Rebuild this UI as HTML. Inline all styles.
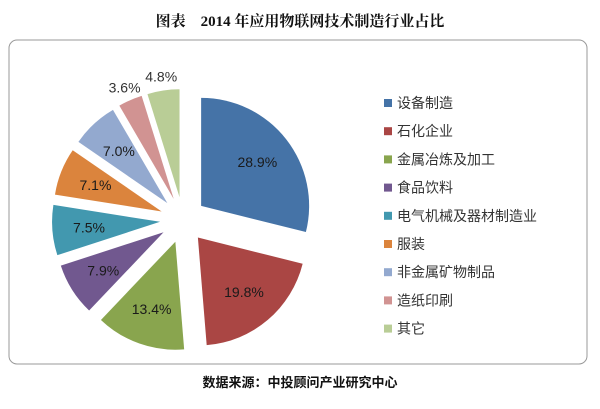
<!DOCTYPE html>
<html><head><meta charset="utf-8"><style>
body{margin:0;width:600px;height:404px;background:#fff;overflow:hidden;font-family:"Liberation Sans","Noto Sans CJK SC",sans-serif}
</style></head><body>
<svg width="600" height="404">
<text x="300" y="26" text-anchor="middle" font-family="'Liberation Serif','Noto Serif CJK SC',serif" font-weight="bold" font-size="15" fill="#111">图表　2014 年应用物联网技术制造行业占比</text>
<rect x="9" y="40" width="578" height="324" rx="8" fill="#fff" stroke="#999" stroke-width="1"/>
<g id="pie"></g>
<g id="legend"></g>
<text x="300" y="387" text-anchor="middle" font-size="13" fill="#111" font-weight="bold">数据来源：中投顾问产业研究中心</text>
</svg>
<script>
const categories=["设备制造","石化企业","金属冶炼及加工","食品饮料","电气机械及器材制造业","服装","非金属矿物制品","造纸印刷","其它"];
const values=[28.9,19.8,13.4,7.9,7.5,7.1,7.0,3.6,4.8];
const labels=["28.9%","19.8%","13.4%","7.9%","7.5%","7.1%","7.0%","3.6%","4.8%"];
const colors=["#4573a7","#aa4644","#89a54e","#71588f","#4298af","#db843d","#93a9cf","#d19392","#b9cd96"];
const NS="http://www.w3.org/2000/svg";
const cx=183,cy=220,r=108,ex=23;
const pie=document.getElementById('pie');
const total=values.reduce((a,b)=>a+b,0);
let acc=0;
values.forEach((v,i)=>{
  const a0=acc/total*2*Math.PI-Math.PI/2;
  acc+=v;
  const a1=acc/total*2*Math.PI-Math.PI/2;
  const am=(a0+a1)/2;
  const ox=cx+ex*Math.cos(am),oy=cy+ex*Math.sin(am);
  const x0=ox+r*Math.cos(a0),y0=oy+r*Math.sin(a0),x1=ox+r*Math.cos(a1),y1=oy+r*Math.sin(a1);
  const p=document.createElementNS(NS,'path');
  p.setAttribute('d',`M${ox},${oy}L${x0},${y0}A${r},${r} 0 ${a1-a0>Math.PI?1:0} 1 ${x1},${y1}Z`);
  p.setAttribute('fill',colors[i]);
  
  
  pie.appendChild(p);
  const small=v<5;
  const d=small?r+14:r*0.66;
  const t=document.createElementNS(NS,'text');
  t.setAttribute('x',ox+d*Math.cos(am));
  t.setAttribute('y',oy+d*Math.sin(am)+5);
  t.setAttribute('text-anchor','middle');
  t.setAttribute('font-size','14');
  t.setAttribute('fill',small?'#333':'#1a1a1a');
  t.textContent=labels[i];
  
  
  pie.appendChild(t);
});
const lg=document.getElementById('legend');
categories.forEach((c,i)=>{
  const y=103+i*28.2;
  const s=document.createElementNS(NS,'rect');
  s.setAttribute('x',384);s.setAttribute('y',y-4);s.setAttribute('width',8);s.setAttribute('height',8);
  s.setAttribute('fill',colors[i]);
  
  
  lg.appendChild(s);
  const t=document.createElementNS(NS,'text');
  t.setAttribute('x',397);t.setAttribute('y',y+5);
  t.setAttribute('font-size','14');t.setAttribute('fill','#333');
  t.textContent=c;
  
  
  lg.appendChild(t);
});
</script>
</body></html>
